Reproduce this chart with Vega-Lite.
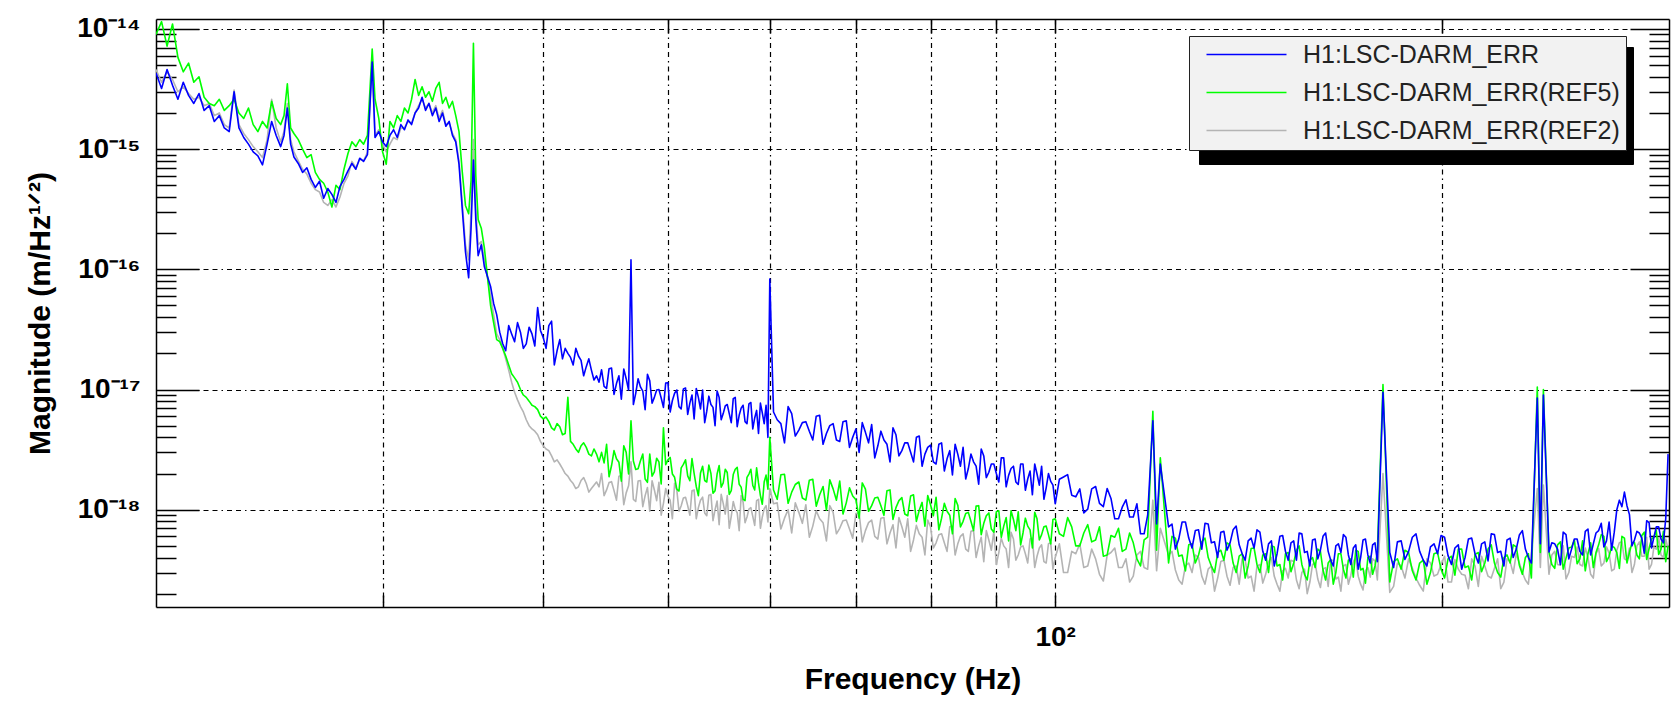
{
"$schema": "https://vega.github.io/schema/vega-lite/v6.json",
"width": 1513, "height": 588,
"autosize": {"type": "none"},
"padding": {"left": 156, "top": 19, "right": 8, "bottom": 95},
"background": "white",
"config": {"view": {"stroke": null}, "font": "Liberation Sans"},
"data": {"values": [
{"f":20.0,"b":4.3e-15,"g":9.0e-15,"r":4.6e-15},
{"f":20.2,"b":3.2e-15,"g":1.15e-14,"r":3.6e-15},
{"f":20.4,"b":4.6e-15,"g":7.2e-15,"r":4.4e-15},
{"f":20.6,"b":3.4e-15,"g":1.1e-14,"r":3.8e-15},
{"f":20.8,"b":2.6e-15,"g":5.8e-15,"r":3.0e-15},
{"f":21.0,"b":3.6e-15,"g":4.4e-15,"r":3.3e-15},
{"f":21.2,"b":2.8e-15,"g":5.2e-15,"r":2.9e-15},
{"f":21.4,"b":2.4e-15,"g":3.6e-15,"r":2.6e-15},
{"f":21.6,"b":2.9e-15,"g":4.0e-15,"r":2.7e-15},
{"f":21.8,"b":2.1e-15,"g":2.7e-15,"r":2.3e-15},
{"f":22.0,"b":2.3e-15,"g":2.4e-15,"r":2.4e-15},
{"f":22.2,"b":1.7e-15,"g":2.3e-15,"r":1.9e-15},
{"f":22.4,"b":1.9e-15,"g":2.6e-15,"r":2.0e-15},
{"f":22.6,"b":1.5e-15,"g":2.1e-15,"r":1.6e-15},
{"f":22.8,"b":1.4e-15,"g":2.3e-15,"r":1.5e-15},
{"f":23.0,"b":3.0e-15,"g":2.6e-15,"r":3.1e-15},
{"f":23.2,"b":1.5e-15,"g":2.0e-15,"r":1.6e-15},
{"f":23.4,"b":1.25e-15,"g":1.8e-15,"r":1.35e-15},
{"f":23.6,"b":1.1e-15,"g":2.2e-15,"r":1.2e-15},
{"f":23.8,"b":9.5e-16,"g":1.6e-15,"r":1.05e-15},
{"f":24.0,"b":8.8e-16,"g":1.4e-15,"r":9.5e-16},
{"f":24.2,"b":7.4e-16,"g":1.7e-15,"r":8.5e-16},
{"f":24.4,"b":1.1e-15,"g":1.5e-15,"r":1.2e-15},
{"f":24.6,"b":1.7e-15,"g":2.5e-15,"r":2.6e-15},
{"f":24.8,"b":1.3e-15,"g":1.8e-15,"r":1.5e-15},
{"f":25.0,"b":1.05e-15,"g":1.6e-15,"r":1.15e-15},
{"f":25.15,"b":1.3e-15,"g":1.9e-15,"r":1.4e-15},
{"f":25.3,"b":2.2e-15,"g":3.5e-15,"r":2.4e-15},
{"f":25.45,"b":1.1e-15,"g":1.5e-15,"r":1.2e-15},
{"f":25.6,"b":8.6e-16,"g":1.35e-15,"r":9.5e-16},
{"f":25.8,"b":7.6e-16,"g":1.2e-15,"r":8.0e-16},
{"f":26.0,"b":6.4e-16,"g":1.0e-15,"r":6.8e-16},
{"f":26.2,"b":7.0e-16,"g":8.5e-16,"r":6.2e-16},
{"f":26.4,"b":5.6e-16,"g":9.0e-16,"r":5.2e-16},
{"f":26.6,"b":4.8e-16,"g":6.4e-16,"r":4.6e-16},
{"f":26.8,"b":5.4e-16,"g":5.6e-16,"r":4.4e-16},
{"f":27.0,"b":3.9e-16,"g":5.2e-16,"r":3.6e-16},
{"f":27.2,"b":4.7e-16,"g":4.4e-16,"r":3.4e-16},
{"f":27.4,"b":4.2e-16,"g":3.3e-16,"r":3.8e-16},
{"f":27.6,"b":3.6e-16,"g":5.0e-16,"r":3.3e-16},
{"f":27.8,"b":4.9e-16,"g":4.6e-16,"r":4.0e-16},
{"f":28.0,"b":5.6e-16,"g":6.8e-16,"r":5.2e-16},
{"f":28.2,"b":6.6e-16,"g":9.2e-16,"r":6.0e-16},
{"f":28.4,"b":7.6e-16,"g":1.15e-15,"r":7.9e-16},
{"f":28.6,"b":6.8e-16,"g":1.05e-15,"r":7.0e-16},
{"f":28.8,"b":8.4e-16,"g":1.2e-15,"r":8.2e-16},
{"f":29.0,"b":7.9e-16,"g":1.1e-15,"r":8.0e-16},
{"f":29.2,"b":9.0e-16,"g":1.3e-15,"r":9.4e-16},
{"f":29.45,"b":5.3e-15,"g":6.8e-15,"r":5.5e-15},
{"f":29.6,"b":1.25e-15,"g":2.6e-15,"r":1.3e-15},
{"f":29.8,"b":1.4e-15,"g":1.8e-15,"r":1.45e-15},
{"f":30.0,"b":1.15e-15,"g":9.5e-16,"r":1.1e-15},
{"f":30.2,"b":1.05e-15,"g":7.5e-16,"r":9.5e-16},
{"f":30.4,"b":1.3e-15,"g":1.7e-15,"r":1.1e-15},
{"f":30.6,"b":1.45e-15,"g":1.5e-15,"r":1.25e-15},
{"f":30.8,"b":1.25e-15,"g":1.9e-15,"r":1.2e-15},
{"f":31.0,"b":1.6e-15,"g":1.7e-15,"r":1.5e-15},
{"f":31.2,"b":1.45e-15,"g":2.2e-15,"r":1.5e-15},
{"f":31.4,"b":1.75e-15,"g":2.0e-15,"r":1.7e-15},
{"f":31.6,"b":1.6e-15,"g":2.6e-15,"r":1.65e-15},
{"f":31.8,"b":2.0e-15,"g":3.8e-15,"r":2.0e-15},
{"f":32.0,"b":2.2e-15,"g":2.8e-15,"r":2.3e-15},
{"f":32.2,"b":2.7e-15,"g":3.3e-15,"r":2.6e-15},
{"f":32.4,"b":2.1e-15,"g":2.7e-15,"r":2.2e-15},
{"f":32.6,"b":2.4e-15,"g":3.0e-15,"r":2.4e-15},
{"f":32.8,"b":1.9e-15,"g":2.5e-15,"r":2.0e-15},
{"f":33.0,"b":2.2e-15,"g":3.2e-15,"r":2.3e-15},
{"f":33.2,"b":1.7e-15,"g":3.6e-15,"r":1.8e-15},
{"f":33.4,"b":2.0e-15,"g":2.4e-15,"r":2.1e-15},
{"f":33.6,"b":1.55e-15,"g":2.7e-15,"r":1.6e-15},
{"f":33.8,"b":1.7e-15,"g":2.2e-15,"r":1.65e-15},
{"f":34.0,"b":1.3e-15,"g":2.5e-15,"r":1.35e-15},
{"f":34.2,"b":1.15e-15,"g":1.9e-15,"r":1.2e-15},
{"f":34.4,"b":7.5e-16,"g":1.4e-15,"r":8.0e-16},
{"f":34.6,"b":3.2e-16,"g":6.5e-16,"r":3.6e-16},
{"f":34.8,"b":1.4e-16,"g":3.4e-16,"r":1.6e-16},
{"f":35.0,"b":8.5e-17,"g":2.9e-16,"r":1.2e-16},
{"f":35.15,"b":2.2e-16,"g":5.5e-16,"r":3.0e-16},
{"f":35.3,"b":8.1e-16,"g":7.6e-15,"r":1.2e-15},
{"f":35.45,"b":2.6e-16,"g":6.0e-16,"r":3.2e-16},
{"f":35.6,"b":1.3e-16,"g":2.6e-16,"r":1.6e-16},
{"f":35.8,"b":1.6e-16,"g":2.2e-16,"r":1.7e-16},
{"f":36.0,"b":1.05e-16,"g":1.5e-16,"r":1.2e-16},
{"f":36.4,"b":7.2e-17,"g":5.0e-17,"r":6.0e-17},
{"f":36.8,"b":4.2e-17,"g":2.6e-17,"r":2.9e-17},
{"f":37.2,"b":2.4e-17,"g":2.2e-17,"r":2.2e-17},
{"f":37.6,"b":3.4e-17,"g":1.6e-17,"r":1.45e-17},
{"f":38.0,"b":2.5e-17,"g":1.25e-17,"r":9.5e-18},
{"f":38.4,"b":3.0e-17,"g":1.0e-17,"r":7.2e-18},
{"f":38.8,"b":2.4e-17,"g":8.6e-18,"r":5.6e-18},
{"f":39.2,"b":2.9e-17,"g":7.4e-18,"r":4.7e-18},
{"f":39.6,"b":4.8e-17,"g":6.8e-18,"r":4.2e-18},
{"f":40.0,"b":2.7e-17,"g":5.7e-18,"r":3.4e-18},
{"f":40.4,"b":3.4e-17,"g":5.4e-18,"r":3.1e-18},
{"f":40.8,"b":1.6e-17,"g":4.6e-18,"r":2.5e-18},
{"f":41.2,"b":2.6e-17,"g":4.9e-18,"r":2.4e-18},
{"f":41.6,"b":2.2e-17,"g":4.3e-18,"r":2.0e-18},
{"f":41.8,"b":2.0e-17,"g":8.6e-18,"r":1.9e-18},
{"f":42.0,"b":1.85e-17,"g":3.7e-18,"r":1.75e-18},
{"f":42.4,"b":2.2e-17,"g":3.2e-18,"r":1.5e-18},
{"f":42.8,"b":1.75e-17,"g":3.4e-18,"r":1.75e-18},
{"f":43.2,"b":1.55e-17,"g":3.3e-18,"r":1.65e-18},
{"f":43.6,"b":1.45e-17,"g":2.8e-18,"r":1.5e-18},
{"f":44.0,"b":1.3e-17,"g":2.9e-18,"r":1.7e-18},
{"f":44.4,"b":1.46e-17,"g":3.0e-18,"r":2.0e-18},
{"f":44.8,"b":1.02e-17,"g":3.5e-18,"r":1.46e-18},
{"f":45.2,"b":1.51e-17,"g":2.33e-18,"r":1.71e-18},
{"f":45.6,"b":1.12e-17,"g":2.65e-18,"r":1.2e-18},
{"f":46.0,"b":8.3e-18,"g":1.73e-18,"r":1.92e-18},
{"f":46.4,"b":1.23e-17,"g":3.0e-18,"r":1.38e-18},
{"f":46.8,"b":1.2e-16,"g":5.5e-18,"r":2.5e-18},
{"f":47.2,"b":9.3e-18,"g":2.16e-18,"r":1.17e-18},
{"f":47.6,"b":1.05e-17,"g":2.55e-18,"r":1.75e-18},
{"f":48.0,"b":6.8e-18,"g":1.8e-18,"r":1.31e-18},
{"f":48.4,"b":1.18e-17,"g":2.9e-18,"r":9.7e-19},
{"f":48.8,"b":8.6e-18,"g":2.06e-18,"r":1.46e-18},
{"f":49.2,"b":1.0e-17,"g":2.5e-18,"r":1.69e-18},
{"f":49.6,"b":7.1e-18,"g":4.8e-18,"r":1.13e-18},
{"f":50.0,"b":1.14e-17,"g":2.6e-18,"r":1.29e-18},
{"f":50.4,"b":8.1e-18,"g":1.98e-18,"r":8.4e-19},
{"f":50.8,"b":9.9e-18,"g":1.48e-18,"r":1.46e-18},
{"f":51.2,"b":6.9e-18,"g":2.23e-18,"r":1.08e-18},
{"f":51.6,"b":1.03e-17,"g":2.6e-18,"r":1.27e-18},
{"f":52.0,"b":7.7e-18,"g":1.74e-18,"r":9.0e-19},
{"f":52.4,"b":5.7e-18,"g":2.0e-18,"r":1.46e-18},
{"f":52.8,"b":8.6e-18,"g":1.31e-18,"r":1.04e-18},
{"f":53.2,"b":9.9e-18,"g":2.3e-18,"r":1.27e-18},
{"f":53.6,"b":6.6e-18,"g":1.7e-18,"r":8.9e-19},
{"f":54.0,"b":7.5e-18,"g":2.0e-18,"r":1.34e-18},
{"f":54.4,"b":5.0e-18,"g":1.44e-18,"r":1.0e-18},
{"f":54.8,"b":8.6e-18,"g":2.33e-18,"r":7.5e-19},
{"f":55.2,"b":6.3e-18,"g":1.67e-18,"r":1.13e-18},
{"f":55.6,"b":7.5e-18,"g":2.04e-18,"r":1.31e-18},
{"f":56.0,"b":5.3e-18,"g":1.44e-18,"r":8.8e-19},
{"f":56.4,"b":8.6e-18,"g":2.17e-18,"r":1.01e-18},
{"f":56.8,"b":6.1e-18,"g":1.63e-18,"r":6.7e-19},
{"f":57.2,"b":7.4e-18,"g":1.22e-18,"r":1.16e-18},
{"f":57.6,"b":5.2e-18,"g":1.86e-18,"r":8.7e-19},
{"f":58.0,"b":7.8e-18,"g":2.17e-18,"r":1.04e-18},
{"f":58.4,"b":5.8e-18,"g":1.46e-18,"r":7.4e-19},
{"f":58.8,"b":4.3e-18,"g":1.67e-18,"r":1.22e-18},
{"f":59.2,"b":6.4e-18,"g":1.11e-18,"r":8.7e-19},
{"f":59.6,"b":7.4e-18,"g":1.94e-18,"r":1.08e-18},
{"f":60.0,"b":8.3e-17,"g":4.0e-18,"r":1.5e-18},
{"f":60.8,"b":5.6e-18,"g":1.22e-18,"r":1.14e-18},
{"f":61.6,"b":3.6e-18,"g":1.97e-18,"r":8.5e-19},
{"f":62.4,"b":6.3e-18,"g":1.4e-18,"r":6.4e-19},
{"f":63.2,"b":4.6e-18,"g":1.7e-18,"r":9.5e-19},
{"f":64.0,"b":5.4e-18,"g":1.2e-18,"r":1.1e-18},
{"f":64.8,"b":3.8e-18,"g":1.79e-18,"r":7.3e-19},
{"f":65.6,"b":6.1e-18,"g":1.33e-18,"r":8.4e-19},
{"f":66.4,"b":4.3e-18,"g":9.9e-19,"r":5.5e-19},
{"f":67.2,"b":5.2e-18,"g":1.49e-18,"r":9.5e-19},
{"f":68.0,"b":3.7e-18,"g":1.73e-18,"r":7.0e-19},
{"f":68.8,"b":5.5e-18,"g":1.14e-18,"r":8.2e-19},
{"f":69.6,"b":4.0e-18,"g":1.3e-18,"r":5.8e-19},
{"f":70.4,"b":3.0e-18,"g":8.5e-19,"r":9.4e-19},
{"f":71.2,"b":4.4e-18,"g":1.48e-18,"r":6.7e-19},
{"f":72.0,"b":5.1e-18,"g":1.08e-18,"r":8.2e-19},
{"f":72.8,"b":3.4e-18,"g":1.27e-18,"r":5.7e-19},
{"f":73.6,"b":3.8e-18,"g":9.0e-19,"r":8.6e-19},
{"f":74.4,"b":2.5e-18,"g":1.46e-18,"r":6.4e-19},
{"f":75.2,"b":4.2e-18,"g":1.04e-18,"r":4.8e-19},
{"f":76.0,"b":3.1e-18,"g":1.26e-18,"r":7.2e-19},
{"f":76.8,"b":3.6e-18,"g":8.9e-19,"r":8.4e-19},
{"f":77.6,"b":2.5e-18,"g":1.33e-18,"r":5.6e-19},
{"f":78.4,"b":4.1e-18,"g":9.9e-19,"r":6.3e-19},
{"f":79.2,"b":2.9e-18,"g":7.3e-19,"r":4.2e-19},
{"f":80.0,"b":3.45e-18,"g":1.1e-18,"r":7.2e-19},
{"f":80.8,"b":2.4e-18,"g":1.27e-18,"r":5.3e-19},
{"f":81.6,"b":3.6e-18,"g":8.5e-19,"r":6.3e-19},
{"f":82.4,"b":2.65e-18,"g":9.7e-19,"r":4.5e-19},
{"f":83.2,"b":1.95e-18,"g":6.3e-19,"r":7.3e-19},
{"f":84.0,"b":2.9e-18,"g":1.09e-18,"r":5.2e-19},
{"f":84.8,"b":3.3e-18,"g":8.0e-19,"r":6.3e-19},
{"f":85.6,"b":2.2e-18,"g":9.5e-19,"r":4.5e-19},
{"f":86.4,"b":2.5e-18,"g":6.7e-19,"r":6.7e-19},
{"f":87.2,"b":1.63e-18,"g":1.08e-18,"r":5.0e-19},
{"f":88.0,"b":2.8e-18,"g":7.7e-19,"r":3.7e-19},
{"f":88.8,"b":2.05e-18,"g":9.4e-19,"r":5.6e-19},
{"f":89.6,"b":2.4e-18,"g":6.5e-19,"r":6.6e-19},
{"f":90.4,"b":1.7e-18,"g":9.8e-19,"r":4.4e-19},
{"f":91.2,"b":2.7e-18,"g":7.3e-19,"r":5.0e-19},
{"f":92.0,"b":1.93e-18,"g":5.5e-19,"r":3.3e-19},
{"f":92.8,"b":2.3e-18,"g":8.3e-19,"r":5.7e-19},
{"f":93.6,"b":1.62e-18,"g":9.6e-19,"r":4.2e-19},
{"f":94.4,"b":2.4e-18,"g":6.4e-19,"r":5.0e-19},
{"f":95.2,"b":1.8e-18,"g":7.3e-19,"r":3.6e-19},
{"f":96.0,"b":1.33e-18,"g":4.8e-19,"r":5.8e-19},
{"f":96.8,"b":1.98e-18,"g":8.4e-19,"r":4.1e-19},
{"f":97.6,"b":2.3e-18,"g":6.2e-19,"r":5.1e-19},
{"f":98.4,"b":1.52e-18,"g":7.3e-19,"r":3.6e-19},
{"f":99.2,"b":1.72e-18,"g":5.2e-19,"r":5.3e-19},
{"f":100.0,"b":1.12e-18,"g":8.4e-19,"r":4.0e-19},
{"f":101.5,"b":1.87e-18,"g":6.0e-19,"r":3.0e-19},
{"f":103,"b":1.32e-18,"g":7.2e-19,"r":4.5e-19},
{"f":104.5,"b":1.49e-18,"g":5.0e-19,"r":5.2e-19},
{"f":106,"b":1.01e-18,"g":7.5e-19,"r":3.4e-19},
{"f":107.5,"b":1.56e-18,"g":5.6e-19,"r":3.9e-19},
{"f":109,"b":1.06e-18,"g":4.1e-19,"r":2.55e-19},
{"f":110.5,"b":1.24e-18,"g":6.1e-19,"r":4.4e-19},
{"f":112,"b":8.4e-19,"g":7.0e-19,"r":3.3e-19},
{"f":113.5,"b":1.21e-18,"g":4.7e-19,"r":3.9e-19},
{"f":115,"b":8.7e-19,"g":5.3e-19,"r":2.8e-19},
{"f":116.5,"b":6.3e-19,"g":3.4e-19,"r":4.5e-19},
{"f":118,"b":9.0e-19,"g":5.9e-19,"r":3.2e-19},
{"f":119.1,"b":5.5e-18,"g":6.6e-18,"r":1.2e-18},
{"f":119.9,"b":7.6e-19,"g":4.6e-19,"r":3.1e-19},
{"f":120.7,"b":2.4e-18,"g":2.7e-18,"r":7.0e-19},
{"f":122.5,"b":7.2e-19,"g":3.6e-19,"r":4.2e-19},
{"f":124,"b":4.7e-19,"g":5.8e-19,"r":3.15e-19},
{"f":125.5,"b":7.9e-19,"g":4.2e-19,"r":2.4e-19},
{"f":127,"b":5.8e-19,"g":5.1e-19,"r":3.6e-19},
{"f":128.5,"b":6.7e-19,"g":3.6e-19,"r":4.2e-19},
{"f":130,"b":4.7e-19,"g":5.4e-19,"r":2.8e-19},
{"f":131.5,"b":7.6e-19,"g":4.0e-19,"r":3.2e-19},
{"f":133,"b":5.4e-19,"g":3.0e-19,"r":2.1e-19},
{"f":134.5,"b":6.5e-19,"g":4.6e-19,"r":3.7e-19},
{"f":136,"b":4.6e-19,"g":5.3e-19,"r":2.8e-19},
{"f":137.5,"b":6.8e-19,"g":3.6e-19,"r":3.3e-19},
{"f":139,"b":5.1e-19,"g":4.1e-19,"r":2.4e-19},
{"f":140.5,"b":3.8e-19,"g":2.7e-19,"r":3.8e-19},
{"f":142,"b":5.8e-19,"g":4.75e-19,"r":2.8e-19},
{"f":143.5,"b":6.8e-19,"g":3.5e-19,"r":3.4e-19},
{"f":145,"b":4.5e-19,"g":4.2e-19,"r":2.45e-19},
{"f":146.5,"b":5.2e-19,"g":3.0e-19,"r":3.7e-19},
{"f":148,"b":3.4e-19,"g":4.9e-19,"r":2.8e-19},
{"f":149.5,"b":6.0e-19,"g":3.5e-19,"r":2.1e-19},
{"f":151,"b":4.5e-19,"g":4.3e-19,"r":3.25e-19},
{"f":152.5,"b":5.3e-19,"g":3.05e-19,"r":3.8e-19},
{"f":154,"b":3.8e-19,"g":4.6e-19,"r":2.6e-19},
{"f":155.5,"b":6.3e-19,"g":3.5e-19,"r":3.0e-19},
{"f":157,"b":4.5e-19,"g":2.6e-19,"r":2.0e-19},
{"f":158.5,"b":5.6e-19,"g":4.0e-19,"r":3.5e-19},
{"f":160,"b":3.9e-19,"g":4.7e-19,"r":2.65e-19},
{"f":161.5,"b":6.0e-19,"g":3.15e-19,"r":3.2e-19},
{"f":163,"b":4.5e-19,"g":3.6e-19,"r":2.3e-19},
{"f":164.5,"b":3.4e-19,"g":2.4e-19,"r":3.8e-19},
{"f":166,"b":5.2e-19,"g":4.3e-19,"r":2.75e-19},
{"f":167.5,"b":6.2e-19,"g":3.2e-19,"r":3.4e-19},
{"f":169,"b":4.2e-19,"g":3.8e-19,"r":2.4e-19},
{"f":170.5,"b":4.8e-19,"g":2.75e-19,"r":3.7e-19},
{"f":172,"b":3.2e-19,"g":4.5e-19,"r":2.8e-19},
{"f":173.5,"b":5.6e-19,"g":3.25e-19,"r":2.15e-19},
{"f":175,"b":4.2e-19,"g":4.0e-19,"r":3.3e-19},
{"f":176.5,"b":5.1e-19,"g":2.9e-19,"r":3.9e-19},
{"f":178,"b":3.7e-19,"g":4.4e-19,"r":2.6e-19},
{"f":179.8,"b":9.5e-18,"g":1.1e-17,"r":2.0e-18},
{"f":182,"b":4.4e-19,"g":2.5e-19,"r":2.05e-19},
{"f":184.5,"b":5.4e-19,"g":3.9e-19,"r":3.6e-19},
{"f":187,"b":3.85e-19,"g":4.6e-19,"r":2.7e-19},
{"f":189.5,"b":5.9e-19,"g":3.1e-19,"r":3.25e-19},
{"f":192,"b":4.5e-19,"g":3.6e-19,"r":2.35e-19},
{"f":194.5,"b":3.4e-19,"g":2.4e-19,"r":3.9e-19},
{"f":197,"b":5.2e-19,"g":4.3e-19,"r":2.8e-19},
{"f":199.5,"b":6.1e-19,"g":3.2e-19,"r":3.5e-19},
{"f":202,"b":4.15e-19,"g":3.9e-19,"r":2.5e-19},
{"f":204.5,"b":4.8e-19,"g":2.85e-19,"r":3.85e-19},
{"f":207,"b":3.2e-19,"g":4.7e-19,"r":2.9e-19},
{"f":209.5,"b":5.7e-19,"g":3.4e-19,"r":2.2e-19},
{"f":212,"b":4.3e-19,"g":4.25e-19,"r":3.4e-19},
{"f":214.5,"b":5.2e-19,"g":3.05e-19,"r":4.1e-19},
{"f":217,"b":3.75e-19,"g":4.7e-19,"r":2.8e-19},
{"f":219.5,"b":6.2e-19,"g":3.6e-19,"r":3.25e-19},
{"f":222,"b":4.5e-19,"g":2.75e-19,"r":2.2e-19},
{"f":224.5,"b":5.6e-19,"g":4.2e-19,"r":3.9e-19},
{"f":227,"b":4.0e-19,"g":5.1e-19,"r":2.95e-19},
{"f":229.5,"b":6.15e-19,"g":3.45e-19,"r":3.6e-19},
{"f":232,"b":4.7e-19,"g":4.0e-19,"r":2.6e-19},
{"f":234.5,"b":3.6e-19,"g":2.7e-19,"r":4.35e-19},
{"f":237,"b":8.5e-18,"g":1.05e-17,"r":1.5e-18},
{"f":238.3,"b":5.2e-19,"g":4.4e-19,"r":3.3e-19},
{"f":239.6,"b":9.0e-18,"g":1.0e-17,"r":1.6e-18},
{"f":242,"b":4.45e-19,"g":4.45e-19,"r":2.9e-19},
{"f":244.5,"b":5.2e-19,"g":3.25e-19,"r":4.5e-19},
{"f":247,"b":3.5e-19,"g":5.4e-19,"r":3.45e-19},
{"f":249.5,"b":6.2e-19,"g":3.95e-19,"r":2.65e-19},
{"f":252,"b":4.7e-19,"g":4.9e-19,"r":4.1e-19},
{"f":254.5,"b":5.7e-19,"g":3.55e-19,"r":4.9e-19},
{"f":257,"b":4.2e-19,"g":5.5e-19,"r":3.4e-19},
{"f":259.5,"b":6.9e-19,"g":4.3e-19,"r":4.0e-19},
{"f":262,"b":5.2e-19,"g":3.3e-19,"r":2.7e-19},
{"f":264.5,"b":6.7e-19,"g":5.1e-19,"r":4.75e-19},
{"f":267,"b":4.9e-19,"g":6.0e-19,"r":3.6e-19},
{"f":269.5,"b":7.9e-19,"g":4.1e-19,"r":4.35e-19},
{"f":272,"b":6.5e-19,"g":4.85e-19,"r":3.2e-19},
{"f":274.5,"b":1.2e-18,"g":3.25e-19,"r":5.3e-19},
{"f":277,"b":1.4e-18,"g":5.8e-19,"r":3.9e-19},
{"f":279.5,"b":9.1e-19,"g":4.4e-19,"r":4.8e-19},
{"f":282,"b":5.6e-19,"g":5.35e-19,"r":3.5e-19},
{"f":284.5,"b":6.4e-19,"g":3.9e-19,"r":5.4e-19},
{"f":287,"b":4.35e-19,"g":6.5e-19,"r":4.1e-19},
{"f":289.5,"b":7.8e-19,"g":4.75e-19,"r":3.2e-19},
{"f":292,"b":5.9e-19,"g":5.9e-19,"r":4.9e-19},
{"f":294.5,"b":7.2e-19,"g":4.25e-19,"r":5.85e-19},
{"f":297,"b":5.3e-19,"g":6.6e-19,"r":4.0e-19},
{"f":299.5,"b":2.9e-18,"g":5.0e-19,"r":4.7e-19},
{"f":36.6,"b":5.2e-17,"g":3.6e-17,"r":4.2e-17},
{"f":37.0,"b":3.0e-17,"g":2.5e-17,"r":2.6e-17},
{"f":37.4,"b":2.1e-17,"g":1.9e-17,"r":1.8e-17},
{"f":37.8,"b":2.9e-17,"g":1.35e-17,"r":1.15e-17},
{"f":38.2,"b":3.6e-17,"g":1.15e-17,"r":8.2e-18},
{"f":38.6,"b":2.2e-17,"g":9.0e-18,"r":6.5e-18},
{"f":39.0,"b":3.3e-17,"g":8.0e-18,"r":5.0e-18},
{"f":39.4,"b":2.3e-17,"g":7.2e-18,"r":4.5e-18},
{"f":39.8,"b":3.1e-17,"g":6.0e-18,"r":3.7e-18},
{"f":40.2,"b":2.2e-17,"g":5.9e-18,"r":3.2e-18},
{"f":40.6,"b":3.7e-17,"g":4.8e-18,"r":2.8e-18},
{"f":41.0,"b":2.1e-17,"g":5.2e-18,"r":2.6e-18},
{"f":41.4,"b":1.8e-17,"g":4.2e-18,"r":2.2e-18},
{"f":42.2,"b":1.6e-17,"g":3.5e-18,"r":1.65e-18},
{"f":42.6,"b":1.9e-17,"g":3.0e-18,"r":1.55e-18},
{"f":43.0,"b":1.3e-17,"g":3.6e-18,"r":1.85e-18},
{"f":43.4,"b":1.8e-17,"g":2.9e-18,"r":1.4e-18},
{"f":43.8,"b":1.2e-17,"g":3.2e-18,"r":1.6e-18},
{"f":44.2,"b":1.15e-17,"g":2.5e-18,"r":1.55e-18},
{"f":44.6,"b":1.06e-17,"g":2.45e-18,"r":1.31e-18},
{"f":45.0,"b":1.49e-17,"g":1.88e-18,"r":1.68e-18},
{"f":45.4,"b":9.1e-18,"g":3.1e-18,"r":1.44e-18},
{"f":45.8,"b":1.3e-17,"g":2.48e-18,"r":1.9e-18},
{"f":46.2,"b":1.48e-17,"g":3.4e-18,"r":1.1e-18},
{"f":46.6,"b":9.9e-18,"g":1.98e-18,"r":1.58e-18},
{"f":47.0,"b":7.5e-18,"g":2.54e-18,"r":1.22e-18},
{"f":47.4,"b":1.23e-17,"g":2.19e-18,"r":1.73e-18},
{"f":47.8,"b":9.7e-18,"g":2.9e-18,"r":1.06e-18},
{"f":48.2,"b":1.34e-17,"g":1.69e-18,"r":1.53e-18},
{"f":48.6,"b":7.7e-18,"g":1.9e-18,"r":1.74e-18},
{"f":49.0,"b":9.9e-18,"g":2.68e-18,"r":1.19e-18},
{"f":49.4,"b":8.5e-18,"g":1.64e-18,"r":9.0e-19},
{"f":49.8,"b":1.13e-17,"g":2.37e-18,"r":1.5e-18},
{"f":50.2,"b":6.5e-18,"g":2.72e-18,"r":1.2e-18},
{"f":50.6,"b":9.3e-18,"g":1.86e-18,"r":1.66e-18},
{"f":51.0,"b":7.2e-18,"g":1.43e-18,"r":9.7e-19},
{"f":51.4,"b":1.01e-17,"g":2.38e-18,"r":1.25e-18},
{"f":51.8,"b":6.2e-18,"g":1.91e-18,"r":1.08e-18},
{"f":52.2,"b":9.0e-18,"g":2.66e-18,"r":1.44e-18},
{"f":52.6,"b":1.02e-17,"g":1.56e-18,"r":8.4e-19},
{"f":53.0,"b":6.9e-18,"g":2.02e-18,"r":1.2e-18},
{"f":53.4,"b":5.3e-18,"g":1.75e-18,"r":9.4e-19},
{"f":53.8,"b":8.8e-18,"g":2.35e-18,"r":1.32e-18},
{"f":54.2,"b":7.1e-18,"g":1.37e-18,"r":8.1e-19},
{"f":54.6,"b":9.7e-18,"g":1.98e-18,"r":1.18e-18},
{"f":55.0,"b":5.6e-18,"g":1.54e-18,"r":1.34e-18},
{"f":55.4,"b":7.3e-18,"g":2.17e-18,"r":9.2e-19},
{"f":55.8,"b":6.3e-18,"g":1.34e-18,"r":7.0e-19},
{"f":56.2,"b":8.4e-18,"g":1.96e-18,"r":1.17e-18},
{"f":56.6,"b":4.9e-18,"g":2.25e-18,"r":9.4e-19},
{"f":57.0,"b":7.0e-18,"g":1.54e-18,"r":1.31e-18},
{"f":57.4,"b":5.4e-18,"g":1.19e-18,"r":7.8e-19},
{"f":57.8,"b":7.6e-18,"g":1.98e-18,"r":1.01e-18},
{"f":58.2,"b":4.7e-18,"g":1.59e-18,"r":8.8e-19},
{"f":58.6,"b":6.7e-18,"g":2.23e-18,"r":1.19e-18},
{"f":59.0,"b":7.7e-18,"g":1.31e-18,"r":7.0e-19},
{"f":59.4,"b":5.2e-18,"g":1.7e-18,"r":1.02e-18},
{"f":59.8,"b":4.0e-18,"g":1.48e-18,"r":7.9e-19},
{"f":60.4,"b":6.5e-18,"g":1.46e-18,"r":1.12e-18},
{"f":61.2,"b":5.2e-18,"g":1.95e-18,"r":6.9e-19},
{"f":62.0,"b":7.2e-18,"g":1.13e-18,"r":1.0e-18},
{"f":62.8,"b":4.1e-18,"g":1.62e-18,"r":1.14e-18},
{"f":63.6,"b":5.3e-18,"g":1.25e-18,"r":7.7e-19},
{"f":64.4,"b":4.5e-18,"g":1.76e-18,"r":5.9e-19},
{"f":65.2,"b":6.0e-18,"g":1.07e-18,"r":9.8e-19},
{"f":66.0,"b":3.5e-18,"g":1.56e-18,"r":7.8e-19},
{"f":66.8,"b":5.0e-18,"g":1.77e-18,"r":1.08e-18},
{"f":67.6,"b":3.8e-18,"g":1.2e-18,"r":6.3e-19},
{"f":68.4,"b":5.4e-18,"g":9.2e-19,"r":8.1e-19},
{"f":69.2,"b":3.3e-18,"g":1.52e-18,"r":6.9e-19},
{"f":70.0,"b":4.7e-18,"g":1.21e-18,"r":9.3e-19},
{"f":70.8,"b":5.3e-18,"g":1.67e-18,"r":5.4e-19},
{"f":71.6,"b":3.6e-18,"g":9.7e-19,"r":7.8e-19},
{"f":72.4,"b":2.7e-18,"g":1.25e-18,"r":6.0e-19},
{"f":73.2,"b":4.5e-18,"g":1.08e-18,"r":8.5e-19},
{"f":74.0,"b":3.5e-18,"g":1.44e-18,"r":5.2e-19},
{"f":74.8,"b":4.8e-18,"g":8.3e-19,"r":7.5e-19},
{"f":75.6,"b":2.8e-18,"g":1.19e-18,"r":8.6e-19},
{"f":76.4,"b":3.6e-18,"g":9.2e-19,"r":5.9e-19},
{"f":77.2,"b":3.0e-18,"g":1.3e-18,"r":4.5e-19},
{"f":78.0,"b":4.0e-18,"g":8.0e-19,"r":7.4e-19},
{"f":78.8,"b":2.3e-18,"g":1.15e-18,"r":5.9e-19},
{"f":79.6,"b":3.3e-18,"g":1.31e-18,"r":8.2e-19},
{"f":80.4,"b":2.5e-18,"g":8.9e-19,"r":4.8e-19},
{"f":81.2,"b":3.5e-18,"g":6.8e-19,"r":6.2e-19},
{"f":82.0,"b":2.1e-18,"g":1.13e-18,"r":5.3e-19},
{"f":82.8,"b":3.1e-18,"g":9.0e-19,"r":7.2e-19},
{"f":83.6,"b":3.5e-18,"g":1.24e-18,"r":4.2e-19},
{"f":84.4,"b":2.3e-18,"g":7.2e-19,"r":6.0e-19},
{"f":85.2,"b":1.8e-18,"g":9.3e-19,"r":4.7e-19},
{"f":86.0,"b":2.9e-18,"g":8.0e-19,"r":6.6e-19},
{"f":86.8,"b":2.3e-18,"g":1.07e-18,"r":4.0e-19},
{"f":87.6,"b":3.2e-18,"g":6.2e-19,"r":5.9e-19},
{"f":88.4,"b":1.85e-18,"g":8.9e-19,"r":6.7e-19},
{"f":89.2,"b":2.4e-18,"g":6.9e-19,"r":4.6e-19},
{"f":90.0,"b":2.0e-18,"g":9.6e-19,"r":3.5e-19},
{"f":90.8,"b":2.7e-18,"g":5.9e-19,"r":5.8e-19},
{"f":91.6,"b":1.55e-18,"g":8.6e-19,"r":4.7e-19},
{"f":92.4,"b":2.2e-18,"g":9.8e-19,"r":6.5e-19},
{"f":93.2,"b":1.7e-18,"g":6.7e-19,"r":3.8e-19},
{"f":94.0,"b":2.4e-18,"g":5.1e-19,"r":4.9e-19},
{"f":94.8,"b":1.45e-18,"g":8.5e-19,"r":4.3e-19},
{"f":95.6,"b":2.1e-18,"g":6.8e-19,"r":5.7e-19},
{"f":96.4,"b":2.4e-18,"g":9.5e-19,"r":3.3e-19},
{"f":97.2,"b":1.6e-18,"g":5.6e-19,"r":4.8e-19},
{"f":98.0,"b":1.22e-18,"g":7.2e-19,"r":3.7e-19},
{"f":98.8,"b":2.0e-18,"g":6.2e-19,"r":5.2e-19},
{"f":99.6,"b":1.6e-18,"g":8.3e-19,"r":3.2e-19},
{"f":100.75,"b":1.79e-18,"g":6.3e-19,"r":5.2e-19},
{"f":102.25,"b":1.96e-18,"g":8.6e-19,"r":3.0e-19},
{"f":103.75,"b":1.28e-18,"g":5.0e-19,"r":4.3e-19},
{"f":105.25,"b":9.4e-19,"g":6.4e-19,"r":3.3e-19},
{"f":106.75,"b":1.49e-18,"g":5.4e-19,"r":4.7e-19},
{"f":108.25,"b":1.13e-18,"g":7.2e-19,"r":2.9e-19},
{"f":109.75,"b":1.5e-18,"g":4.2e-19,"r":4.2e-19},
{"f":111.25,"b":8.4e-19,"g":5.9e-19,"r":4.8e-19},
{"f":112.75,"b":1.05e-18,"g":4.5e-19,"r":3.3e-19},
{"f":114.25,"b":8.7e-19,"g":6.4e-19,"r":2.5e-19},
{"f":115.75,"b":1.12e-18,"g":3.9e-19,"r":4.2e-19},
{"f":117.25,"b":6.3e-19,"g":5.6e-19,"r":3.3e-19},
{"f":123.25,"b":7.6e-19,"g":6.0e-19,"r":4.5e-19},
{"f":124.75,"b":5.7e-19,"g":4.1e-19,"r":2.6e-19},
{"f":126.25,"b":7.9e-19,"g":3.1e-19,"r":3.4e-19},
{"f":127.75,"b":4.8e-19,"g":5.2e-19,"r":3.0e-19},
{"f":129.25,"b":6.8e-19,"g":4.2e-19,"r":4.0e-19},
{"f":130.75,"b":7.7e-19,"g":5.8e-19,"r":2.4e-19},
{"f":132.25,"b":5.3e-19,"g":3.4e-19,"r":3.4e-19},
{"f":133.75,"b":4.0e-19,"g":4.4e-19,"r":2.7e-19},
{"f":135.25,"b":6.6e-19,"g":3.8e-19,"r":3.8e-19},
{"f":136.75,"b":5.3e-19,"g":5.1e-19,"r":2.35e-19},
{"f":138.25,"b":7.3e-19,"g":3.0e-19,"r":3.4e-19},
{"f":139.75,"b":4.3e-19,"g":4.3e-19,"r":3.9e-19},
{"f":141.25,"b":5.5e-19,"g":3.4e-19,"r":2.7e-19},
{"f":142.75,"b":4.8e-19,"g":4.8e-19,"r":2.1e-19},
{"f":144.25,"b":6.5e-19,"g":3.0e-19,"r":3.5e-19},
{"f":145.75,"b":3.8e-19,"g":4.3e-19,"r":2.9e-19},
{"f":147.25,"b":5.5e-19,"g":5.0e-19,"r":4.0e-19},
{"f":148.75,"b":4.3e-19,"g":3.4e-19,"r":2.4e-19},
{"f":150.25,"b":6.1e-19,"g":2.6e-19,"r":3.1e-19},
{"f":151.75,"b":3.8e-19,"g":4.4e-19,"r":2.7e-19},
{"f":153.25,"b":5.5e-19,"g":3.6e-19,"r":3.7e-19},
{"f":154.75,"b":6.4e-19,"g":5.0e-19,"r":2.2e-19},
{"f":156.25,"b":4.4e-19,"g":2.9e-19,"r":3.2e-19},
{"f":157.75,"b":3.4e-19,"g":3.8e-19,"r":2.5e-19},
{"f":159.25,"b":5.7e-19,"g":3.3e-19,"r":3.6e-19},
{"f":160.75,"b":4.6e-19,"g":4.5e-19,"r":2.25e-19},
{"f":162.25,"b":6.4e-19,"g":2.6e-19,"r":3.3e-19},
{"f":163.75,"b":3.8e-19,"g":3.85e-19,"r":3.8e-19},
{"f":165.25,"b":5.0e-19,"g":3.0e-19,"r":2.65e-19},
{"f":166.75,"b":4.4e-19,"g":4.3e-19,"r":2.1e-19},
{"f":168.25,"b":5.9e-19,"g":2.7e-19,"r":3.5e-19},
{"f":169.75,"b":3.5e-19,"g":3.9e-19,"r":2.85e-19},
{"f":171.25,"b":5.1e-19,"g":4.6e-19,"r":4.0e-19},
{"f":172.75,"b":4.0e-19,"g":3.15e-19,"r":2.4e-19},
{"f":174.25,"b":5.7e-19,"g":2.45e-19,"r":3.1e-19},
{"f":175.75,"b":3.6e-19,"g":4.1e-19,"r":2.75e-19},
{"f":177.25,"b":5.3e-19,"g":3.4e-19,"r":3.75e-19},
{"f":183.25,"b":3.3e-19,"g":3.7e-19,"r":2.3e-19},
{"f":185.75,"b":5.5e-19,"g":3.2e-19,"r":3.4e-19},
{"f":188.25,"b":4.5e-19,"g":4.4e-19,"r":3.9e-19},
{"f":190.75,"b":6.3e-19,"g":2.6e-19,"r":2.7e-19},
{"f":193.25,"b":3.8e-19,"g":3.8e-19,"r":2.1e-19},
{"f":195.75,"b":4.9e-19,"g":3.0e-19,"r":3.6e-19},
{"f":198.25,"b":4.3e-19,"g":4.4e-19,"r":2.9e-19},
{"f":200.75,"b":5.9e-19,"g":2.7e-19,"r":4.1e-19},
{"f":203.25,"b":3.5e-19,"g":4.1e-19,"r":2.5e-19},
{"f":205.75,"b":5.1e-19,"g":4.7e-19,"r":3.2e-19},
{"f":208.25,"b":4.0e-19,"g":3.3e-19,"r":2.85e-19},
{"f":210.75,"b":5.8e-19,"g":2.6e-19,"r":3.9e-19},
{"f":213.25,"b":3.6e-19,"g":4.4e-19,"r":2.3e-19},
{"f":215.75,"b":5.4e-19,"g":3.6e-19,"r":3.4e-19},
{"f":218.25,"b":6.3e-19,"g":5.1e-19,"r":2.7e-19},
{"f":220.75,"b":4.4e-19,"g":3.0e-19,"r":3.9e-19},
{"f":223.25,"b":3.4e-19,"g":4.0e-19,"r":2.5e-19},
{"f":225.75,"b":5.8e-19,"g":3.6e-19,"r":3.7e-19},
{"f":228.25,"b":4.7e-19,"g":4.9e-19,"r":4.3e-19},
{"f":230.75,"b":6.7e-19,"g":2.9e-19,"r":3.0e-19},
{"f":233.25,"b":4.0e-19,"g":4.3e-19,"r":2.4e-19},
{"f":243.25,"b":5.3e-19,"g":3.5e-19,"r":4.2e-19},
{"f":245.75,"b":4.7e-19,"g":5.1e-19,"r":3.5e-19},
{"f":248.25,"b":6.5e-19,"g":3.2e-19,"r":5.0e-19},
{"f":250.75,"b":3.9e-19,"g":4.8e-19,"r":3.0e-19},
{"f":253.25,"b":5.7e-19,"g":5.6e-19,"r":4.0e-19},
{"f":255.75,"b":4.5e-19,"g":3.9e-19,"r":3.5e-19},
{"f":258.25,"b":6.6e-19,"g":3.1e-19,"r":4.8e-19},
{"f":260.75,"b":4.2e-19,"g":5.3e-19,"r":2.9e-19},
{"f":263.25,"b":6.4e-19,"g":4.4e-19,"r":4.3e-19},
{"f":265.75,"b":7.7e-19,"g":6.2e-19,"r":3.4e-19},
{"f":268.25,"b":5.5e-19,"g":3.7e-19,"r":4.9e-19},
{"f":270.75,"b":4.6e-19,"g":5.0e-19,"r":3.1e-19},
{"f":273.25,"b":1.0e-18,"g":4.4e-19,"r":4.6e-19},
{"f":275.75,"b":1.06e-18,"g":6.0e-19,"r":5.4e-19},
{"f":278.25,"b":1.08e-18,"g":3.6e-19,"r":3.8e-19},
{"f":280.75,"b":5.0e-19,"g":5.3e-19,"r":3.0e-19},
{"f":283.25,"b":6.6e-19,"g":4.2e-19,"r":5.0e-19},
{"f":285.75,"b":5.8e-19,"g":6.1e-19,"r":4.1e-19},
{"f":288.25,"b":8.1e-19,"g":3.85e-19,"r":5.9e-19},
{"f":290.75,"b":4.8e-19,"g":5.7e-19,"r":3.5e-19},
{"f":293.25,"b":7.2e-19,"g":6.7e-19,"r":4.7e-19},
{"f":295.75,"b":5.7e-19,"g":4.7e-19,"r":4.2e-19},
{"f":298.25,"b":8.4e-19,"g":3.7e-19,"r":5.7e-19}
]},
"transform": [{"fold": ["r", "g", "b"], "as": ["key", "value"]}],
"layer": [
{
"mark": {"type": "line", "strokeWidth": 1.6, "strokeJoin": "round", "clip": true},
"encoding": {
"x": {"field": "f", "type": "quantitative",
 "scale": {"type": "log", "domain": [20, 300], "nice": false},
 "axis": {"orient": "bottom", "values": [30,40,50,60,70,80,90,100,200],
  "labelExpr": "datum.value == 100 ? '10²' : ''",
  "labelFont": "Liberation Sans", "labelFontWeight": "bold", "labelFontSize": 28, "labelColor": "black",
  "labelBaseline": "alphabetic", "labelPadding": 50, "labelFlush": false, "labelOverlap": false,
  "grid": true, "gridColor": "black", "gridWidth": 1.2, "gridDash": [5,4,5,4,1.5,4],
  "ticks": true, "tickSize": -12, "tickColor": "black", "tickWidth": 1.5,
  "domain": true, "domainColor": "black", "domainWidth": 1.5,
  "title": "Frequency (Hz)", "titleFont": "Liberation Sans", "titleFontWeight": "bold", "titleFontSize": 30, "titleColor": "black",
  "titleBaseline": "alphabetic", "titleY": 81}},
"y": {"field": "value", "type": "quantitative",
 "scale": {"type": "log", "domain": [1.55e-19, 1.21e-14], "nice": false},
 "axis": {"orient": "left",
  "values": [2e-19,3e-19,4e-19,5e-19,6e-19,7e-19,8e-19,9e-19,1e-18,2e-18,3e-18,4e-18,5e-18,6e-18,7e-18,8e-18,9e-18,1e-17,2e-17,3e-17,4e-17,5e-17,6e-17,7e-17,8e-17,9e-17,1e-16,2e-16,3e-16,4e-16,5e-16,6e-16,7e-16,8e-16,9e-16,1e-15,2e-15,3e-15,4e-15,5e-15,6e-15,7e-15,8e-15,9e-15,1e-14],
  "labelExpr": "abs(log(datum.value)/LN10 - round(log(datum.value)/LN10)) < 0.001 ? '10⁻¹' + ['⁰','¹','²','³','⁴','⁵','⁶','⁷','⁸','⁹'][-round(log(datum.value)/LN10) - 10] : ''",
  "labelFont": "Liberation Sans", "labelFontWeight": "bold", "labelFontSize": 28, "labelColor": "black",
  "labelPadding": {"condition": {"test": "abs(log(datum.value)/LN10 - round(log(datum.value)/LN10)) < 0.001", "value": 59}, "value": 36},
  "labelOverlap": false, "labelFlush": false,
  "grid": true, "gridColor": "black", "gridWidth": 1.2, "gridDash": [5,4,5,4,1.5,4],
  "gridOpacity": {"condition": {"test": "abs(log(datum.value)/LN10 - round(log(datum.value)/LN10)) < 0.001", "value": 1}, "value": 0},
  "ticks": true, "tickColor": "black", "tickWidth": 1.5,
  "tickSize": {"condition": {"test": "abs(log(datum.value)/LN10 - round(log(datum.value)/LN10)) < 0.001", "value": -43}, "value": -20},
  "domain": true, "domainColor": "black", "domainWidth": 1.5,
  "title": "Magnitude (m/Hz¹ᐟ²)", "titleFont": "Liberation Sans", "titleFontWeight": "bold", "titleFontSize": 30, "titleColor": "black",
  "titleX": -116, "titleY": 294, "titleAngle": -90, "titleAlign": "center", "titleBaseline": "middle"}},
"color": {"field": "key", "type": "nominal",
 "scale": {"domain": ["b", "g", "r"], "range": ["#0000ff", "#00ff00", "#b4b4b4"]},
 "legend": {"title": null, "orient": "none", "legendX": 1033, "legendY": 17, "zindex": 2,
  "fillColor": "#f2f2f2", "strokeColor": "#222222", "padding": 6,
  "symbolType": "M-4,0H4", "symbolSize": 400, "symbolStrokeWidth": 1.5, "symbolOffset": 39,
  "labelOffset": 44, "labelFont": "Liberation Sans", "labelFontSize": 25, "labelColor": "#222222", "labelLimit": 600,
  "rowPadding": 12,
  "labelExpr": "datum.label == 'b' ? 'H1:LSC-DARM_ERR' : datum.label == 'g' ? 'H1:LSC-DARM_ERR(REF5)' : 'H1:LSC-DARM_ERR(REF2)'"}}
}
},
{
"mark": {"type": "point", "opacity": 0, "size": 625},
"encoding": {
"x": {"field": "f", "type": "quantitative",
 "scale": {"type": "log", "domain": [20, 300], "nice": false},
 "axis": {"orient": "top", "values": [30,40,50,60,70,80,90,100,200], "labels": false, "grid": false,
  "tickSize": -14, "tickColor": "black", "tickWidth": 1.5, "domainColor": "black", "domainWidth": 1.5, "title": null}},
"y": {"field": "value", "type": "quantitative",
 "scale": {"type": "log", "domain": [1.55e-19, 1.21e-14], "nice": false},
 "axis": {"orient": "right",
  "values": [2e-19,3e-19,4e-19,5e-19,6e-19,7e-19,8e-19,9e-19,1e-18,2e-18,3e-18,4e-18,5e-18,6e-18,7e-18,8e-18,9e-18,1e-17,2e-17,3e-17,4e-17,5e-17,6e-17,7e-17,8e-17,9e-17,1e-16,2e-16,3e-16,4e-16,5e-16,6e-16,7e-16,8e-16,9e-16,1e-15,2e-15,3e-15,4e-15,5e-15,6e-15,7e-15,8e-15,9e-15,1e-14],
  "labels": false, "grid": false,
  "tickSize": {"condition": {"test": "abs(log(datum.value)/LN10 - round(log(datum.value)/LN10)) < 0.001", "value": -39}, "value": -20},
  "tickColor": "black", "tickWidth": 1.5, "domainColor": "black", "domainWidth": 1.5, "title": null}},
"shape": {"field": "key", "type": "nominal",
 "scale": {"domain": ["r", "g", "b"], "range": ["square", "square", "square"]},
 "legend": {"title": null, "orient": "none", "legendX": 1043, "legendY": 28, "zindex": 1,
  "fillColor": "black", "strokeColor": "black", "padding": 6,
  "symbolSize": 625, "symbolOpacity": 0, "symbolOffset": 395,
  "labelOffset": 0, "labelFontSize": 25, "rowPadding": 12,
  "labelExpr": "''"}}
}
}
],
"resolve": {"axis": {"x": "independent", "y": "independent"}}
}
